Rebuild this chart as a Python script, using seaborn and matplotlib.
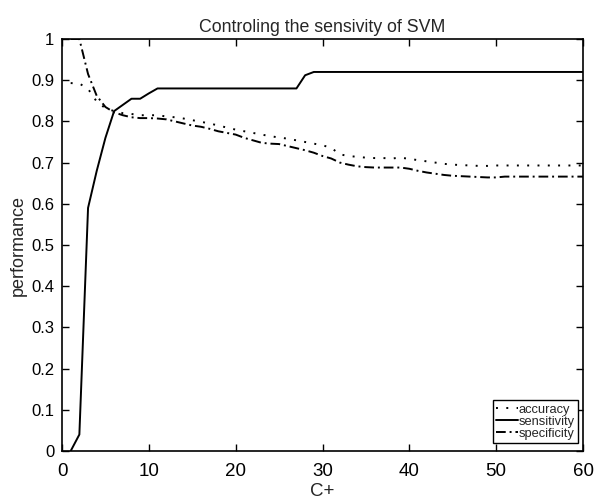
import numpy as np
import pandas as pd
import matplotlib
matplotlib.use("Agg")
import matplotlib.pyplot as plt
import seaborn as sns

c_plus = list(range(1, 61))

sensitivity = [0.0, 0.04, 0.59, 0.68, 0.76, 0.825, 0.84, 0.855, 0.855, 0.868,
               0.88, 0.88, 0.88, 0.88, 0.88, 0.88, 0.88, 0.88, 0.88, 0.88,
               0.88, 0.88, 0.88, 0.88, 0.88, 0.88, 0.88, 0.912, 0.92, 0.92,
               0.92, 0.92, 0.92, 0.92, 0.92, 0.92, 0.92, 0.92, 0.92, 0.92,
               0.92, 0.92, 0.92, 0.92, 0.92, 0.92, 0.92, 0.92, 0.92, 0.92,
               0.92, 0.92, 0.92, 0.92, 0.92, 0.92, 0.92, 0.92, 0.92, 0.92]

accuracy = [0.893, 0.892, 0.879, 0.848, 0.832, 0.825, 0.82, 0.818, 0.815, 0.815,
            0.815, 0.812, 0.81, 0.807, 0.803, 0.799, 0.795, 0.79, 0.785, 0.78,
            0.776, 0.772, 0.768, 0.764, 0.761, 0.758, 0.754, 0.75, 0.746, 0.742,
            0.736, 0.72, 0.716, 0.714, 0.712, 0.711, 0.711, 0.71, 0.712, 0.709,
            0.706, 0.703, 0.700, 0.697, 0.695, 0.694, 0.693, 0.692, 0.692, 0.693,
            0.693, 0.693, 0.693, 0.693, 0.693, 0.693, 0.693, 0.693, 0.693, 0.693]

specificity = [1.0, 1.0, 0.915, 0.862, 0.835, 0.822, 0.815, 0.81, 0.808, 0.808,
               0.807, 0.805, 0.8, 0.795, 0.79, 0.787, 0.782, 0.776, 0.772, 0.768,
               0.76, 0.754, 0.748, 0.746, 0.745, 0.74, 0.735, 0.73, 0.724, 0.716,
               0.71, 0.7, 0.695, 0.691, 0.689, 0.688, 0.688, 0.688, 0.688, 0.685,
               0.68, 0.676, 0.673, 0.67, 0.668, 0.667, 0.666, 0.665, 0.664, 0.664,
               0.666, 0.666, 0.666, 0.666, 0.666, 0.666, 0.666, 0.666, 0.666, 0.666]

x_ticks = [0, 10, 20, 30, 40, 50, 60]
y_ticks = [0, 0.1, 0.2, 0.3, 0.4, 0.5, 0.6, 0.7, 0.8, 0.9, 1]
y_tick_labels = ["0", "0.1", "0.2", "0.3", "0.4", "0.5", "0.6", "0.7", "0.8", "0.9", "1"]

df = pd.DataFrame({"C+": c_plus, "accuracy": accuracy,
                   "sensitivity": sensitivity, "specificity": specificity})

sns.set_style("ticks")
plt.rcParams["font.family"] = ["Liberation Sans", "DejaVu Sans"]

fig = plt.figure(figsize=(5.98, 4.99), dpi=100)
ax = fig.add_axes([62/598, 1 - 451/499, 521/598, 412/499])

sns.lineplot(data=df, x="C+", y="accuracy", ax=ax, color="black", lw=1.4,
             linestyle=(0, (1, 4.3)), label="accuracy")
sns.lineplot(data=df, x="C+", y="sensitivity", ax=ax, color="black", lw=1.4,
             linestyle="-", label="sensitivity")
sns.lineplot(data=df, x="C+", y="specificity", ax=ax, color="black", lw=1.4,
             linestyle=(0, (5, 2, 1, 2)), label="specificity")

ax.set_xlim(0, 60)
ax.set_ylim(0, 1)
ax.set_xticks(x_ticks)
ax.set_yticks(y_ticks)
ax.set_yticklabels(y_tick_labels)
ax.tick_params(direction="in", length=5, width=1, top=True, right=True,
               colors="black")
ax.tick_params(axis="y", labelsize=12, pad=5.5)
ax.tick_params(axis="x", labelsize=13.5, pad=9)
for s in ax.spines.values():
    s.set_visible(True)
    s.set_linewidth(1.2)
    s.set_color("black")

ax.set_title("Controling the sensivity of SVM", fontsize=12.8, pad=5)
ax.set_xlabel("C+", fontsize=13.5, labelpad=2)
ax.set_ylabel("performance", fontsize=13, labelpad=3)

leg = ax.legend(loc="lower right", bbox_to_anchor=((578-62)/521, (451-443)/412),
                borderaxespad=0, fontsize=9.3, handlelength=1.7, handletextpad=0.05,
                labelspacing=0.0, borderpad=0.25, fancybox=False, framealpha=1,
                edgecolor="black")
leg.get_frame().set_linewidth(1.0)

fig.savefig("out.png", dpi=100)
